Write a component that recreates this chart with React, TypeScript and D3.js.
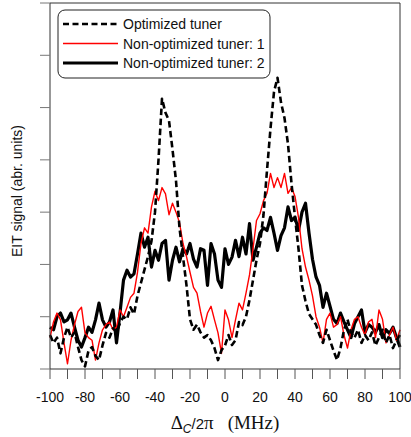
import * as d3 from 'd3';

// detuning grid (MHz), 2 MHz step
const detuning = d3.range(-100, 101, 2);

const optimized = [
  0.65, 0.5, 0.6, 0.3, 0.6, 0.8, 0.6, 0.7, 0.42, 0.17, 0.05, 0.35, 0.42, 0.25, 0.17, 0.45,
  0.69, 0.6, 0.78, 0.7, 0.88, 1.0, 0.95, 1.18, 1.05, 1.4, 1.65, 1.9, 2.15, 2.45, 3.0, 4.0,
  5.17, 4.9, 4.75, 4.2, 3.6, 2.7, 2.15, 1.6, 0.95, 0.75, 0.85, 0.7, 0.6, 0.65, 0.55, 0.4,
  0.17, 0.36, 0.45, 0.65, 0.46, 0.55, 0.9, 0.84, 1.0, 1.32, 1.7, 2.08, 2.4, 2.95, 3.8, 4.6,
  5.3, 5.57, 5.1, 4.8, 4.3, 3.55, 2.9, 2.3, 1.6, 1.3, 1.05, 0.95, 0.85, 0.65, 0.5, 0.75,
  0.55, 0.35, 0.17, 0.4, 0.75, 0.95, 0.7, 0.6, 0.75, 0.5, 0.65, 0.55, 0.7, 0.45, 0.6, 0.75,
  0.5, 0.65, 0.4, 0.55, 0.65,
];

const nonOptimized1 = [
  0.6, 0.9, 1.07, 0.94, 0.5, 0.1, 0.55, 0.85, 1.1, 1.18, 0.69, 0.6, 0.55, 0.17, 0.5, 0.75,
  0.85, 0.9, 0.75, 0.8, 1.13, 1.0, 1.18, 1.37, 1.45, 1.85, 2.4, 2.7, 2.6, 3.1, 3.4, 3.22,
  3.47, 3.35, 2.95, 3.17, 3.0, 2.8, 2.4, 2.15, 1.85, 1.56, 1.45, 1.1, 0.8, 1.07, 1.2, 0.94,
  0.69, 0.3, 1.13, 0.94, 0.6, 0.94, 1.26, 1.13, 1.45, 1.8, 2.3, 2.84, 2.97, 3.22, 3.36, 3.74,
  3.47, 3.66, 3.47, 3.74, 3.36, 3.47, 3.3, 2.9, 2.3, 1.95, 1.7, 1.4, 1.0, 0.8, 0.5, 0.95,
  1.07, 0.8, 0.85, 1.0, 0.65, 0.4, 0.75, 0.95, 1.0, 0.8, 0.65, 0.9, 0.95, 0.6, 1.13, 0.95,
  0.5, 0.65, 0.8, 0.55, 0.75,
];

const nonOptimized2 = [
  0.8, 0.75, 1.0, 1.07, 0.9, 0.94, 1.07, 0.8, 0.55, 0.42, 0.6, 0.8, 0.7, 0.94, 1.26, 0.94,
  0.8, 0.9, 1.13, 0.5, 1.07, 1.7, 1.89, 1.76, 1.82, 2.2, 2.6, 2.33, 2.52, 1.95, 2.27, 2.08,
  2.4, 2.46, 1.7, 2.08, 2.33, 2.05, 2.3, 2.2, 2.4, 2.1, 1.95, 2.3, 2.27, 1.6, 2.4, 2.2,
  1.7, 1.56, 2.3, 2.0, 2.14, 2.46, 2.15, 2.52, 2.2, 2.78, 2.08, 2.33, 2.6, 2.7, 2.65, 2.9,
  2.6, 2.27, 2.55, 2.7, 3.1, 2.84, 2.9, 2.65, 3.0, 3.17, 2.6, 2.1, 1.76, 1.6, 1.18, 1.45,
  1.2, 0.95, 0.87, 1.07, 0.9, 0.75, 0.6, 0.87, 1.0, 1.13, 0.7, 0.85, 0.8, 0.7, 0.85, 0.6,
  0.75, 0.68, 0.8, 0.6, 0.42,
];

const xTicks = d3.range(-100, 101, 10);
const xLabels = d3.range(-100, 101, 20);
const yTicks = d3.range(0, 8, 1);

const legendItems = [
  { label: 'Optimized tuner', color: '#000000', width: 2.5, dash: '6,3.5' },
  { label: 'Non-optimized tuner: 1', color: '#ff0000', width: 1.5, dash: 'none' },
  { label: 'Non-optimized tuner: 2', color: '#000000', width: 3, dash: 'none' },
];

const font = "'Liberation Sans', Arial, sans-serif";

export default function App() {
  const width = 411;
  const height = 437;
  const margin = { top: 3, right: 11, bottom: 68, left: 50 };

  const x = d3.scaleLinear().domain([-100, 100]).range([margin.left, width - margin.right]);
  const y = d3.scaleLinear().domain([0, 7]).range([height - margin.bottom, margin.top]);

  const line = (vals: number[]) =>
    d3
      .line<number>()
      .x((_, i) => x(detuning[i]))
      .y((d) => y(d))(vals) || '';

  const x0 = x(-100);
  const x1 = x(100);
  const y0 = y(0);
  const y1 = y(7);

  return (
    <svg
      width={width}
      height={height}
      style={{ position: 'absolute', left: 0, top: 0, background: '#fff' }}
      fontFamily={font}
    >
      {/* data */}
      <path d={line(nonOptimized2)} fill="none" stroke="#000" strokeWidth={3.2} strokeLinejoin="round" />
      <path d={line(nonOptimized1)} fill="none" stroke="#ff0000" strokeWidth={1.4} strokeLinejoin="round" />
      <path
        d={line(optimized)}
        fill="none"
        stroke="#000"
        strokeWidth={2.6}
        strokeDasharray="6.5,3.5"
        strokeLinejoin="round"
      />

      {/* frame */}
      <path d={`M${x0},${y0}V${y1}H${x1}V${y0}`} fill="none" stroke="#333" strokeWidth={1} />
      <line x1={x0} x2={x1} y1={y0} y2={y0} stroke="#333" strokeWidth={1.2} />

      {/* x ticks */}
      {xTicks.map((t) => (
        <line key={t} x1={x(t)} x2={x(t)} y1={y0} y2={y0 + 10} stroke="#555" strokeWidth={1} />
      ))}
      {xLabels.map((t) => (
        <text key={t} x={x(t)} y={y0 + 33} textAnchor="middle" fontSize={14} fill="#111">
          {t}
        </text>
      ))}

      {/* y ticks, no labels */}
      {yTicks.map((t) => (
        <line key={t} x1={x0 - 10} x2={x0} y1={y(t)} y2={y(t)} stroke="#777" strokeWidth={1} />
      ))}

      <text
        transform={`translate(22, ${(y0 + y1) / 2 + 5}) rotate(-90)`}
        textAnchor="middle"
        fontSize={14}
        fill="#111"
      >
        EIT signal (abr. units)
      </text>

      <text x={x(0)} y={429} textAnchor="middle" fontSize={19} fill="#111" fontFamily="'Liberation Serif', 'Times New Roman', serif">
        <tspan>Δ</tspan>
        <tspan fontFamily={font} fontStyle="italic" fontSize={12} dy={4}>C</tspan>
        <tspan fontFamily={font} fontSize={15} dy={-4}>/2</tspan>
        <tspan>π</tspan>
        <tspan dx={14}>(MHz)</tspan>
      </text>

      {/* legend */}
      <rect x={58} y={10} width={212} height={68} rx={7} fill="#fff" stroke="#222" strokeWidth={1} />
      {legendItems.map((d, i) => {
        const ly = 24 + i * 19.5;
        return (
          <g key={d.label}>
            <line
              x1={63}
              x2={118}
              y1={ly}
              y2={ly}
              style={{ stroke: d.color, strokeWidth: d.width, strokeDasharray: d.dash }}
            />
            <text x={123} y={ly + 5} fontSize={14} fill="#111">
              {d.label}
            </text>
          </g>
        );
      })}
    </svg>
  );
}
